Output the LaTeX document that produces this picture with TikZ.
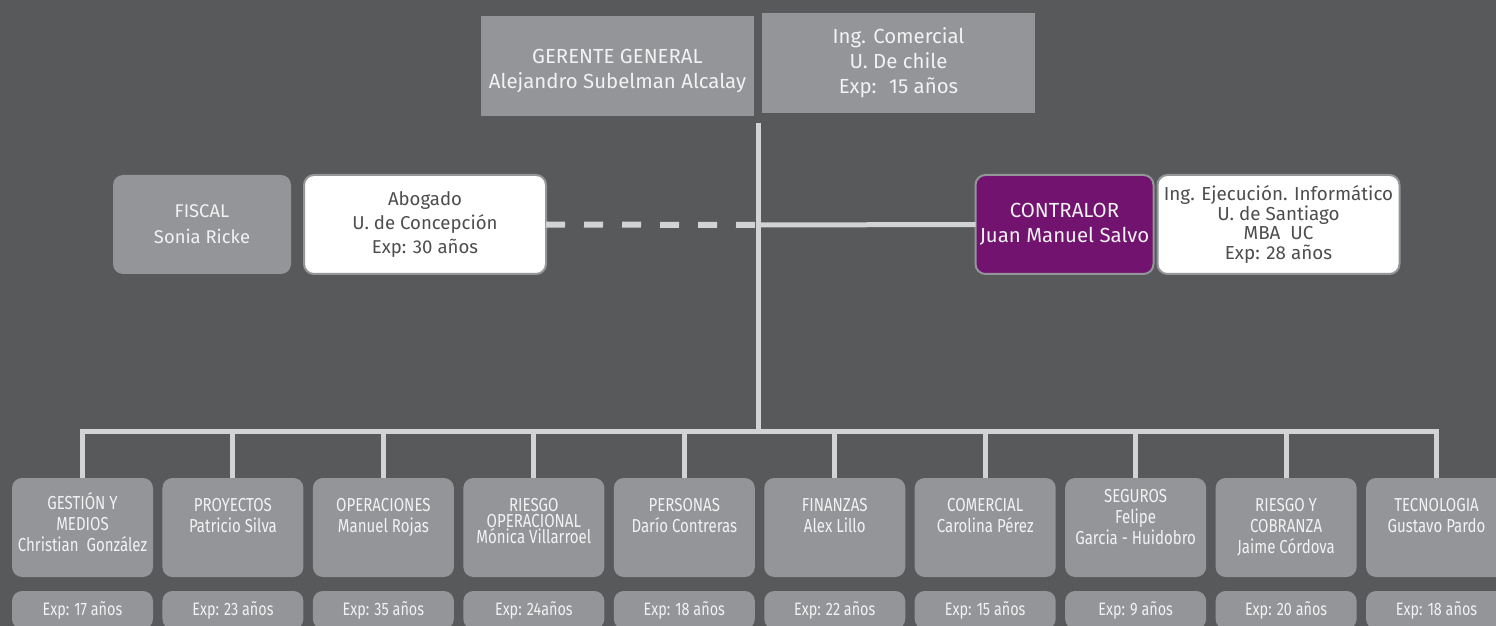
\documentclass[tikz,border=0pt]{standalone}
\usepackage{fontspec}
\setmainfont{Fira Sans}
\newfontfamily\narrowfont[FakeStretch=0.8]{Fira Sans}
\usetikzlibrary{positioning}

\definecolor{bgGray}{HTML}{58595B}
\definecolor{boxGray}{HTML}{939598}
\definecolor{lineGray}{HTML}{D1D3D4}
\definecolor{ctrlPurple}{HTML}{72136F}
\definecolor{txtLight}{HTML}{F1F2F2}
\definecolor{txtDark}{HTML}{4D4D4F}

\tikzset{
  conn/.style={draw=lineGray, line width=2.5pt},
  topbox/.style={fill=boxGray, text=txtLight, align=center, inner sep=0pt, outer sep=0pt,
    minimum width=136.5pt, minimum height=50pt, font=\fontsize{10.2}{12.5}\selectfont},
  midbox/.style={rounded corners=5pt, align=center, inner sep=0pt, outer sep=0pt,
    minimum width=89pt, minimum height=49.5pt},
  infobox/.style={midbox, fill=white, draw=boxGray, line width=1pt, text=txtDark,
    minimum width=121pt},
  dept/.style={fill=boxGray, rounded corners=5pt, inner sep=0pt, outer sep=0pt,
    minimum width=70.5pt, minimum height=49.5pt},
  depttxt/.style={anchor=north, inner sep=0pt, text=txtLight, align=center,
    font=\narrowfont\fontsize{9.4}{10.5}\selectfont},
  tight/.style={font=\narrowfont\fontsize{9.4}{8}\selectfont},
  high/.style={yshift=4.5pt},
  accent/.style={yshift=3pt},
  plain/.style={},
  expbox/.style={fill=boxGray, rounded corners=5pt, inner sep=0pt, outer sep=0pt,
    minimum width=70.5pt, minimum height=19pt, text=txtLight,
    font=\narrowfont\fontsize{9}{10}\selectfont}
}

\begin{document}
\begin{tikzpicture}[x=0.5pt, y=-0.5pt]
\useasboundingbox (0,0) rectangle (1496,626);
\clip (0,0) rectangle (1496,626);
\fill[bgGray] (0,0) rectangle (1496,626);

% top
\node[topbox, text height=24.5pt] (gerente) at (617.5,66) {GERENTE GENERAL\\Alejandro Subelman Alcalay};
\node[topbox] (gerinfo) at (898.5,63) {Ing. Comercial\\U. De chile\\Exp:~ 15 años};

% staff
\node[midbox, fill=boxGray, text=txtLight, font=\fontsize{9.2}{13}\selectfont] (fiscal) at (202,224.5) {FISCAL\\Sonia Ricke};
\node[infobox, right=6.5pt of fiscal, font=\fontsize{9.3}{12}\selectfont] (fisinfo) {Abogado\\U. de Concepción\\Exp: 30 años};
\node[midbox, fill=ctrlPurple, draw=boxGray, line width=1pt, text=txtLight,
  font=\fontsize{10.2}{12.7}\selectfont] (contralor) at (1064.5,224.5) {CONTRALOR\\Juan Manuel Salvo};
\node[infobox, right=2pt of contralor, font=\fontsize{9.4}{9.7}\selectfont] (coninfo) {Ing. Ejecución. Informático\\U. de Santiago\\MBA~ UC\\Exp: 28 años};

% departments
\foreach \ttl/\xp/\sty [count=\i from 0] in {
  {GESTIÓN Y\\MEDIOS\\Christian\ \ González}/17 años/accent,
  {PROYECTOS\\Patricio Silva}/23 años/plain,
  {OPERACIONES\\Manuel Rojas}/35 años/plain,
  {RIESGO\\OPERACIONAL\\Mónica Villarroel}/24años/tight,
  {PERSONAS\\Darío Contreras}/18 años/plain,
  {FINANZAS\\Alex Lillo}/22 años/plain,
  {COMERCIAL\\Carolina Pérez}/15 años/plain,
  {SEGUROS\\Felipe\\Garcia - Huidobro}/9 años/high,
  {RIESGO Y\\COBRANZA\\Jaime Córdova}/20 años/plain,
  {TECNOLOGIA\\Gustavo Pardo}/18 años/plain}
{
  \pgfmathsetmacro{\cx}{82.5+150.45*\i}
  \node[dept] (d\i) at (\cx,527.5) {};
  \node[depttxt,\sty] (t\i) at (\cx,497.5) {\ttl};
  \node[expbox] (e\i) at (\cx,610) {Exp: \xp};
}

% connectors
\coordinate (top) at (758.5,123);
\coordinate (hub) at (758.5,431);
\coordinate (cross) at (758.5,225);
\draw[conn] (top) -- (hub);
\draw[conn, line width=3pt, dash pattern=on 9.5pt off 9.5pt] (fisinfo.east) -- (cross);
\draw[conn] (cross) -- (contralor.west);
\draw[conn] (d0.north) |- (hub) -| (d9.north);
\foreach \i in {1,...,8}
  \draw[conn] (d\i.north) -- (d\i.north |- hub);
\end{tikzpicture}
\end{document}
